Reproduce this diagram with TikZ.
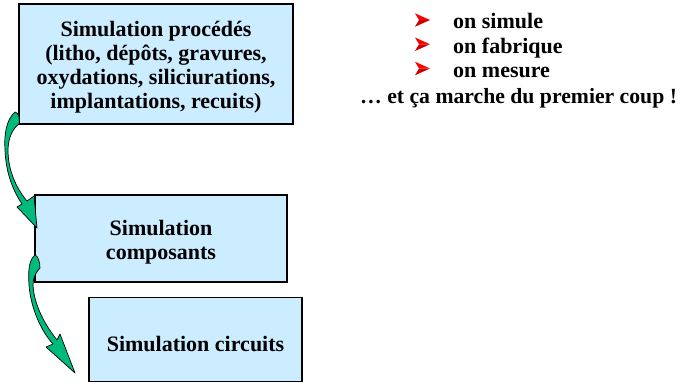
\documentclass[tikz,border=0pt]{standalone}
\usepackage{fontspec}
\setmainfont{Liberation Serif}
\usepackage{xcolor}
\definecolor{boxblue}{RGB}{204,236,255}
\definecolor{arrowgreen}{RGB}{0,185,125}
\definecolor{pucered}{RGB}{255,0,0}
\definecolor{pucedark}{RGB}{200,0,0}

\begin{document}
\begin{tikzpicture}[x=1pt,y=-1pt,
	etape/.style={draw=black,line width=1.3pt,fill=boxblue,inner sep=0pt},
	libelle/.style={align=center,font=\fontsize{22}{24}\selectfont\bfseries,inner sep=0pt},
	fleche/.style={fill=arrowgreen,draw=black,line width=0.7pt,line join=round},
	texte/.style={anchor=base west,font=\fontsize{22}{24}\selectfont\bfseries,inner sep=0pt}]
	\useasboundingbox (0,0) rectangle (681,383);
	% les trois boites
	\node[etape,minimum width=274pt,minimum height=120pt] (procedes) at (156,64) {};
	\node[libelle,yshift=-3pt] (procedes-texte) at (procedes)
		{Simulation procédés\\(litho, dépôts, gravures,\\oxydations, siliciurations,\\implantations, recuits)};
	\node[etape,minimum width=252pt,minimum height=87pt] (composants) at (161,238.5) {};
	\node[libelle,yshift=-4pt] (composants-texte) at (composants) {Simulation\\composants};
	\node[etape,minimum width=213pt,minimum height=84pt] (circuits) at (195.5,339.5) {};
	\node[libelle,yshift=-4pt] (circuits-texte) at (circuits) {Simulation circuits};
	% fleches courbes
	\filldraw[fleche] (15,112) .. controls (6,120) and (4,135) .. (5,150)
		.. controls (6,175) and (14,192) .. (22,204) -- (17,207) -- (37,228) -- (34,196) -- (27,201)
		.. controls (16,188) and (8,170) .. (8,150)
		.. controls (8,138) and (13,128) .. (19,124)
		.. controls (20,118) and (19,113) .. (15,112) -- cycle;
	\filldraw[fleche] (35,255) .. controls (29,260) and (28,270) .. (29,285)
		.. controls (31,310) and (42,332) .. (53,344) -- (46,347) -- (75,373) -- (60,334) -- (57,340)
		.. controls (45,325) and (34,305) .. (33,285)
		.. controls (33,278) and (36,272) .. (40,268)
		.. controls (40,262) and (38,256) .. (35,255) -- cycle;
	% liste
	\foreach \t [count=\i] in {on simule,on fabrique,on mesure}
	{
		\fill[pucered] (415,{-11+24.25*\i}) -- (430,{-4.25+24.25*\i}) -- (419,{-4.25+24.25*\i}) -- cycle;
		\fill[pucedark] (419,{-4.25+24.25*\i}) -- (430,{-4.25+24.25*\i}) -- (415,{2.5+24.25*\i}) -- cycle;
		\node[texte] (item\i) at (453,{4+24.5*\i}) {\t};
	}
	\node[texte,font=\fontsize{21.7}{24}\selectfont\bfseries] (conclusion) at (360,103.5) {… et ça marche du premier coup !};
\end{tikzpicture}
\end{document}
